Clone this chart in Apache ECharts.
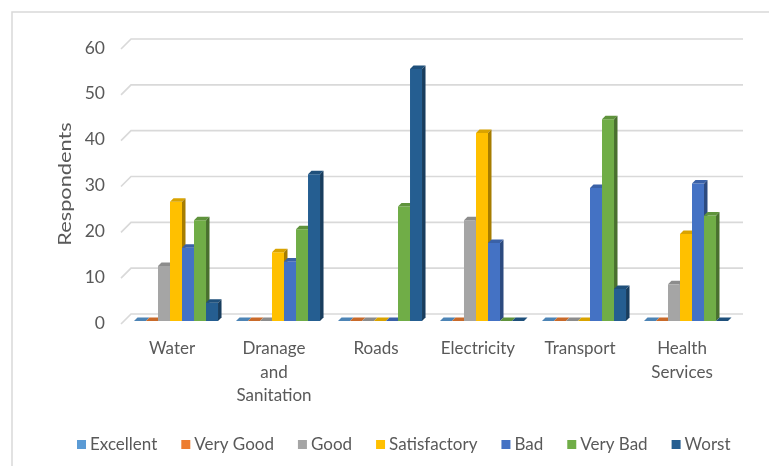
<!DOCTYPE html>
<html>
<head>
<meta charset="utf-8">
<script src="https://cdn.jsdelivr.net/npm/echarts@6/dist/echarts.min.js"></script>
<style>
  html, body { margin: 0; padding: 0; background: #ffffff; }
  #chart { width: 769px; height: 466px; }
</style>
</head>
<body>
<div id="chart"></div>
<script>
// Survey ratings of public services
const categories = ['Water', 'Dranage\nand\nSanitation', 'Roads', 'Electricity', 'Transport', 'Health\nServices'];
const ratingNames = ['Excellent', 'Very Good', 'Good', 'Satisfactory', 'Bad', 'Very Bad', 'Worst'];
const excellent    = [0, 0, 0, 0, 0, 0];
const veryGood     = [0, 0, 0, 0, 0, 0];
const good         = [12, 0, 0, 22, 0, 8];
const satisfactory = [26, 15, 0, 41, 0, 19];
const bad          = [16, 13, 0, 17, 29, 30];
const veryBad      = [22, 20, 25, 0, 44, 23];
const worst        = [4, 32, 55, 0, 7, 0];
const yTicks = [0, 10, 20, 30, 40, 50, 60];
const yTitle = 'Respondents';

const ratingValues = [excellent, veryGood, good, satisfactory, bad, veryBad, worst];
const colors = ['#5B9BD5', '#ED7D31', '#A5A5A5', '#FFC000', '#4472C4', '#70AD47', '#255E91'];

const FONT = 'Lato';
const TEXT = '#595959';
const GRID_LINE = '#d9d9d9';
const DEPTH = 3.5;          // bar extrusion in px
const GROUP_SHARE = 0.824;  // share of the category band used by a bar cluster

const chart = echarts.init(document.getElementById('chart'), null, { renderer: 'canvas' });

// darken a hex colour by a factor (0..1)
function shade(hex, f) {
  const n = parseInt(hex.slice(1), 16);
  const r = Math.round(((n >> 16) & 255) * (1 - f));
  const g = Math.round(((n >> 8) & 255) * (1 - f));
  const b = Math.round((n & 255) * (1 - f));
  return 'rgb(' + r + ',' + g + ',' + b + ')';
}

// 3D-style column: front face, top face, right side face
function barRenderer(k) {
  return function (params, api) {
    const ci = api.value(0);
    const v = api.value(1);
    const base = api.coord([ci, 0]);
    const top = api.coord([ci, v]);
    const band = api.size([1, 0])[0];
    const groupW = band * GROUP_SHARE;
    const bw = groupW / ratingNames.length;
    const x0 = base[0] - groupW / 2 + k * bw;
    const x1 = x0 + bw;
    const yb = base[1];
    const yt = top[1];
    const c = colors[k];
    const d = DEPTH;
    return {
      type: 'group',
      children: [
        { type: 'rect', shape: { x: x0, y: yt, width: bw, height: yb - yt },
          style: { fill: c } },
        { type: 'polygon', shape: { points: [[x0, yt], [x1, yt], [x1 + d, yt - d], [x0 + d, yt - d]] },
          style: { fill: shade(c, 0.15) } },
        { type: 'polygon', shape: { points: [[x1, yt], [x1 + d, yt - d], [x1 + d, yb - d], [x1, yb]] },
          style: { fill: shade(c, 0.35) } }
      ]
    };
  };
}

// back wall grid lines with the short receding segment at the left
function gridRenderer(params, api) {
  const cs = params.coordSys;
  const y = api.coord([0, api.value(1)])[1];
  return {
    type: 'polyline',
    shape: { points: [[cs.x - 4, y + 3], [cs.x + 6, y - 7], [cs.x + 6 + cs.width, y - 7]] },
    style: { stroke: GRID_LINE, lineWidth: 1.6, fill: null }
  };
}

const series = [{
  type: 'custom',
  name: 'gridlines',
  xAxisIndex: 0, yAxisIndex: 0,
  silent: true,
  z: 1,
  renderItem: gridRenderer,
  data: yTicks.map(t => [0, t])
}];

ratingNames.forEach((name, k) => {
  series.push({
    type: 'custom',
    name: name,
    xAxisIndex: 0, yAxisIndex: 0,
    z: 2 + k,
    itemStyle: { color: colors[k] },
    renderItem: barRenderer(k),
    data: ratingValues[k].map((v, i) => [i, v])
  });
});

const option = {
  animation: false,
  backgroundColor: '#ffffff',
  textStyle: { fontFamily: FONT },
  graphic: [{
    type: 'rect',
    shape: { x: 12, y: 12, width: 800, height: 500 },
    style: { fill: 'none', stroke: '#d9d9d9', lineWidth: 1.5 },
    silent: true
  }, {
    // vertical axis title, slightly elongated along its reading direction
    type: 'text',
    x: 66, y: 184,
    rotation: Math.PI / 2,
    scaleX: 1.28,
    style: { text: yTitle, fill: TEXT, font: '17px Lato', align: 'center', verticalAlign: 'middle' },
    silent: true
  }],
  grid: [
    // plane of the columns
    { left: 125, right: 32, top: 46, bottom: 145 },
    // front plane carrying the axis labels
    { left: 121, right: 36, top: 48, bottom: 143 }
  ],
  xAxis: [
    { gridIndex: 0, type: 'category', data: categories, show: false },
    { gridIndex: 1, type: 'category', data: categories,
      axisLine: { show: false }, axisTick: { show: false },
      axisLabel: { color: TEXT, fontFamily: FONT, fontSize: 17, lineHeight: 23.5, margin: 14, interval: 0 } }
  ],
  yAxis: [
    { gridIndex: 0, type: 'value', min: 0, max: 60, interval: 10, show: false },
    { gridIndex: 1, type: 'value', min: 0, max: 60, interval: 10,
      axisLine: { show: false }, axisTick: { show: false }, splitLine: { show: false },
      axisLabel: { color: TEXT, fontFamily: FONT, fontSize: 17.5, margin: 16 } }
  ],
  legend: {
    data: ratingNames,
    left: 72, top: 431,
    icon: 'rect', itemWidth: 9, itemHeight: 9, itemGap: 24,
    textStyle: { color: TEXT, fontFamily: FONT, fontSize: 17, padding: [0, 0, 0, -1] }
  },
  series: series
};

chart.setOption(option);
</script>
</body>
</html>
